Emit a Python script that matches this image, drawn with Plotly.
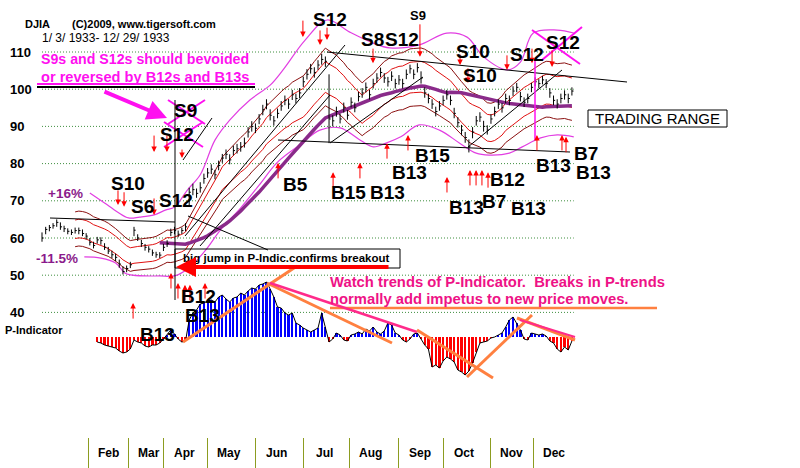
import plotly.graph_objects as go
import pandas as pd

W, H = 800, 468
X0_PX, PX_PER_SESSION = 42, 1.84
Y110_PX, PX_PER_POINT = 52, 3.72
P0_PX = 337

# ---------------- data (every 2nd trading session of 1933) ----------------
bar_step = 2
close = [60.0, 62.3, 62.8, 63.3, 64.2, 63.0, 62.5, 61.8, 61.5, 62.0,
         62.0, 61.2, 60.5, 58.8, 58.0, 59.5, 59.3, 57.5, 56.5, 55.5,
         54.8, 53.0, 51.0, 51.8, 52.8, 62.1, 60.0, 58.5, 57.5, 57.0,
         56.0, 55.5, 55.4, 57.5, 58.5, 61.5, 62.0, 61.0, 62.0, 63.0,
         72.3, 73.0, 72.0, 73.5, 76.0, 77.5, 78.5, 77.0, 79.5, 81.5,
         82.5, 81.0, 83.5, 84.0, 84.5, 85.5, 88.5, 90.0, 89.5, 92.0,
         94.5, 96.0, 93.0, 91.5, 93.5, 95.5, 97.0, 96.0, 98.5, 97.5,
         99.0, 102.0, 104.0, 105.5, 104.5, 106.5, 108.0, 107.5, 92.0, 91.5,
         94.0, 92.0, 95.0, 93.0, 96.5, 95.0, 98.0, 99.0, 100.5, 98.5,
         101.5, 103.0, 104.5, 103.0, 102.0, 103.5, 101.5, 102.5, 101.5, 104.0,
         105.5, 104.0, 105.8, 103.0, 99.0, 97.5, 96.0, 94.0, 95.5, 97.0,
         98.5, 97.0, 93.5, 91.0, 89.0, 87.0, 84.5, 88.5, 91.5, 92.5,
         90.0, 89.0, 92.0, 94.0, 96.0, 95.0, 97.5, 97.0, 99.5, 100.5,
         98.0, 96.5, 97.5, 100.5, 102.0, 101.5, 102.5, 101.5, 99.0, 97.0,
         96.0, 97.5, 98.5, 97.5, 99.5]
high = [61.5, 63.0, 63.5, 64.0, 65.0, 64.2, 63.3, 62.6, 62.3, 62.8,
        62.8, 62.3, 61.3, 60.0, 59.0, 60.3, 60.2, 58.6, 57.6, 56.6,
        55.8, 54.2, 52.4, 52.6, 53.6, 63.0, 61.0, 59.5, 58.4, 57.8,
        56.9, 56.3, 56.2, 58.4, 59.4, 62.5, 63.0, 62.0, 62.8, 64.0,
        73.5, 74.6, 73.3, 75.0, 77.3, 78.8, 79.8, 78.3, 80.8, 82.6,
        83.8, 82.5, 84.8, 85.3, 85.8, 87.0, 89.8, 91.4, 90.8, 93.3,
        95.8, 97.3, 94.6, 92.8, 94.8, 96.8, 98.3, 97.4, 99.8, 98.8,
        100.3, 103.4, 105.4, 106.8, 105.9, 107.8, 109.5, 108.8, 104.0, 93.0,
        95.3, 93.4, 96.4, 94.4, 97.8, 96.4, 99.3, 100.3, 101.8, 99.8,
        102.8, 104.3, 105.8, 104.3, 103.3, 104.8, 102.8, 103.8, 102.8, 105.3,
        106.6, 105.3, 107.0, 104.8, 100.5, 98.8, 97.3, 95.3, 96.8, 98.3,
        99.8, 98.3, 95.0, 92.5, 90.4, 88.5, 86.5, 89.8, 92.8, 93.8,
        91.5, 90.3, 93.3, 95.3, 97.3, 96.3, 98.8, 98.3, 100.8, 101.7,
        99.3, 97.8, 98.8, 101.7, 103.2, 102.7, 103.6, 102.7, 100.3, 98.3,
        97.3, 98.8, 99.7, 98.8, 100.5]
low = [59.0, 61.0, 61.8, 62.5, 63.0, 62.2, 61.6, 61.0, 60.8, 61.2,
       61.0, 60.5, 59.6, 58.0, 57.2, 58.5, 58.2, 56.8, 55.7, 54.6,
       53.8, 52.0, 50.2, 50.8, 51.9, 60.5, 59.2, 57.6, 56.6, 56.1,
       55.2, 54.7, 54.6, 56.5, 57.6, 60.5, 61.0, 60.2, 61.1, 61.8,
       68.5, 71.5, 70.8, 72.2, 74.6, 76.2, 77.2, 75.8, 78.2, 80.2,
       81.2, 79.8, 82.2, 82.7, 83.2, 84.3, 87.0, 88.6, 88.2, 90.6,
       93.0, 94.6, 91.6, 90.2, 92.2, 94.2, 95.7, 94.7, 97.1, 96.2,
       97.6, 100.6, 102.6, 104.2, 103.1, 105.2, 106.6, 106.0, 85.5, 90.0,
       92.6, 90.8, 93.7, 91.8, 95.1, 93.8, 96.7, 97.7, 99.1, 97.2,
       100.2, 101.7, 103.2, 101.7, 100.7, 102.2, 100.2, 101.2, 100.2, 102.7,
       104.2, 102.7, 104.5, 101.5, 97.7, 96.2, 94.7, 92.7, 94.2, 95.7,
       97.2, 95.7, 92.2, 89.7, 87.6, 85.6, 83.0, 86.8, 90.2, 91.2,
       88.6, 87.8, 90.7, 92.7, 94.7, 93.7, 96.2, 95.7, 98.2, 99.2,
       96.7, 95.2, 96.2, 99.2, 100.8, 100.3, 101.3, 100.3, 97.7, 95.7,
       94.8, 96.2, 97.2, 96.2, 98.3]

p_start = 30
p_indicator = [-5, -6, -8, -9, -10, -11, -14, -16, -15, -12,
               -3, -5, -6, -9, -10, -8, -8, -6, -2, 2,
               7, 3, -2, -5, -4, 17, 24, 27, 33, 34,
               36, 37, 35, 40, 42, 38, 35, 39, 40, 44,
               42, 46, 49, 48, 52, 53, 55, 48, 40, 30,
               29, 24, 22, 24, 14, 12, 9, 7, 5, 7,
               9, 24, 10, -5, -2, 4, 2, -3, -4, 2,
               3, 5, 3, 8, 6, 10, 5, 3, 6, 14,
               12, 4, 2, -3, -5, -2, 3, 4, -2, -8,
               -12, -30, -28, -31, -24, -20, -22, -25, -33, -35,
               -38, -34, -26, -15, -6, -5, -4, -1, 0, 2,
               4, 10, 17, 20, 14, 7, -2, -3, 4, 3,
               2, 3, 1, -4, -6, -12, -15, -10, -13, -4]

upper_band_sessions = [26, 34, 41, 47, 53, 61, 67, 72, 79, 86, 94, 102, 113, 124, 131,
                       143, 155, 167, 180, 189, 205, 220, 231, 240, 253, 260, 267, 280, 289]
upper_band = [72.1, 69.4, 67.0, 65.4, 65.6, 66.2, 67.5, 68.3, 72.9, 77.0, 86.3, 91.7, 97.1, 101.1, 105.2,
              113.2, 118.6, 115.4, 112.4, 111.1, 111.9, 115.1, 114.0, 108.7, 105.2, 107.3, 115.1, 115.9, 115.1]
lower_band_sessions = [23, 32, 40, 45, 48, 56, 64, 72, 80, 89, 97, 108, 118, 128, 140, 151,
                       162, 173, 180, 187, 195, 205, 216, 227, 236, 243, 254, 261, 271, 280, 289]
lower_band = [54.9, 54.6, 53.3, 50.6, 50.1, 49.8, 49.8, 49.8, 52.0, 56.8, 62.2, 68.1, 74.2, 80.4, 85.0, 89.0,
              89.6, 86.3, 84.5, 85.5, 87.2, 90.4, 89.0, 85.5, 82.8, 82.3, 82.8, 84.5, 86.9, 87.7, 87.2]

price_ticks = [110, 100, 90, 80, 70, 60, 50, 40]
month_names = ["Feb", "Mar", "Apr", "May", "Jun", "Jul", "Aug", "Sep", "Oct", "Nov", "Dec"]
month_start_sessions = [25, 47, 66, 90, 116, 142, 167, 194, 218, 244, 267]
last_session = 289

sell_sessions = [41.3, 44.6, 60.9, 60.9, 67.9, 76.1, 141.8, 151.1, 154.9, 179.9, 205.4,
                 227.2, 231.5, 252.7, 266.3, 277.2]
sell_prices = [68.9, 68.4, 66.2, 83.1, 83.1, 81.5, 114.0, 111.9, 113.2, 107.0, 108.7,
               106.5, 101.7, 105.2, 107.0, 106.0]
sell_len = [16, 16, 18, 18, 18, 10, 18, 16, 14, 16, 34, 12, 16, 16, 16, 18]
buy_sessions = [49.5, 70.1, 73.9, 77.7, 80.4, 88.6, 128.3, 158.2, 172.8, 187.5, 198.9,
                220.1, 232.6, 235.9, 239.1, 242.4, 269.0, 282.6, 284.8]
buy_prices = [42.5, 50.6, 47.9, 47.4, 47.4, 47.9, 80.2, 77.7, 80.2, 85.5, 87.7,
              76.4, 78.3, 78.3, 78.3, 77.7, 87.7, 87.7, 87.2]

# ---------------- derived series ----------------
sessions = [i * bar_step for i in range(len(close))]
cs = pd.Series(close)
ma21 = cs.rolling(10).mean()
ma65 = cs.rolling(33).mean()

x_range = [-X0_PX / PX_PER_SESSION, (W - X0_PX) / PX_PER_SESSION]
y_range = [110 - (H - Y110_PX) / PX_PER_POINT, 110 + Y110_PX / PX_PER_POINT]
y2_range = [P0_PX - H, P0_PX]

fig = go.Figure()

# dotted grid lines at price levels
for t in price_ticks:
    fig.add_trace(go.Scatter(x=[0, last_session], y=[t, t], mode="lines",
                             line=dict(color="#3f8f3f", width=1, dash="1px,2px"),
                             hoverinfo="skip", showlegend=False))

# P-indicator histogram
p_x = [p_start + i * bar_step for i in range(len(p_indicator))]
fig.add_trace(go.Bar(x=p_x, y=p_indicator, yaxis="y2", width=1.2,
                     marker=dict(color=["#0000ff" if v >= 0 else "#ff0000" for v in p_indicator],
                                 line=dict(width=0)),
                     showlegend=False, hoverinfo="skip"))
fig.add_trace(go.Scatter(x=p_x, y=p_indicator, yaxis="y2", mode="lines",
                         line=dict(color="black", width=1), showlegend=False, hoverinfo="skip"))

# magenta bands
fig.add_trace(go.Scatter(x=upper_band_sessions, y=upper_band, mode="lines",
                         line=dict(color="#e23ee2", width=1.2, shape="spline"), showlegend=False))
fig.add_trace(go.Scatter(x=lower_band_sessions, y=lower_band, mode="lines",
                         line=dict(color="#e23ee2", width=1.2, shape="spline"), showlegend=False))

# red moving-average bands
for f, col in [(1.075, "#8b1010"), (1.04, "#e01010"), (0.96, "#e01010"), (0.925, "#8b1010")]:
    fig.add_trace(go.Scatter(x=sessions, y=ma21 * f, mode="lines",
                             line=dict(color=col, width=1), showlegend=False))

# 65-day average
fig.add_trace(go.Scatter(x=sessions, y=ma65, mode="lines",
                         line=dict(color="#8a2a8a", width=3.5), showlegend=False))

# price bars
bx, by, tx, ty = [], [], [], []
for s, h, l, c in zip(sessions, high, low, close):
    bx += [s, s, None]
    by += [l, h, None]
    tx += [s, s + 0.9, None]
    ty += [c, c, None]
fig.add_trace(go.Scatter(x=bx, y=by, mode="lines", line=dict(color="black", width=1),
                         showlegend=False, hoverinfo="skip"))
fig.add_trace(go.Scatter(x=tx, y=ty, mode="lines", line=dict(color="black", width=1),
                         showlegend=False, hoverinfo="skip"))

# ---------------- annotations ----------------
def px(x):
    return x / W

def py(y):
    return 1 - y / H

ann = []

def text(t, x, y, size=19, color="black", bold=True, xanchor="center", family="Arial"):
    ann.append(dict(text=f"<b>{t}</b>" if bold else t, x=px(x), y=py(y), xref="paper", yref="paper",
                    xanchor=xanchor, yanchor="middle", showarrow=False,
                    font=dict(size=size, color=color, family=family)))

# signal arrows
for s, p, L in zip(sell_sessions, sell_prices, sell_len):
    ann.append(dict(x=s, y=p, xref="x", yref="y", ax=0, ay=-L, text="", showarrow=True,
                    arrowhead=2, arrowsize=1.1, arrowwidth=1, arrowcolor="#ff0000"))
for s, p in zip(buy_sessions, buy_prices):
    ann.append(dict(x=s, y=p, xref="x", yref="y", ax=0, ay=17, text="", showarrow=True,
                    arrowhead=2, arrowsize=1.1, arrowwidth=1, arrowcolor="#ff0000"))

# header texts
text("DJIA", 23, 24, 11, xanchor="left")
text("(C)2009, www.tigersoft.com", 70, 24, 11, xanchor="left")
text("1/ 3/ 1933- 12/ 29/ 1933", 40, 38, 12, bold=False, xanchor="left")
text("S9s and S12s should bevoided", 39, 59, 14.2, color="#ff10f0", xanchor="left")
text("or reversed by B12s and B13s", 39, 77, 14.6, color="#ff10f0", xanchor="left")
ann.append(dict(x=px(167), y=py(118), xref="paper", yref="paper", ax=-64, ay=-27, text="",
                showarrow=True, arrowhead=2, arrowsize=1, arrowwidth=4, arrowcolor="#ff10f0"))

# signal labels
for t, x, y, sz in [("S9", 185, 110, 19), ("S12", 177, 134, 19), ("S10", 128, 184, 19),
                    ("S6", 142, 206, 19), ("S12", 176, 200, 19), ("B12", 198, 296, 19),
                    ("B13", 203, 315, 19), ("B13", 157, 334, 19), ("B5", 295, 185, 19),
                    ("B15", 348, 192, 19), ("B13", 387, 192, 19), ("B13", 410, 172, 19),
                    ("B15", 432, 156, 19), ("B13", 466, 207, 19), ("B7", 494, 201, 19),
                    ("B12", 507, 179, 19), ("B13", 528, 209, 19), ("B13", 553, 165, 19),
                    ("B7", 586, 154, 19), ("B13", 593, 172, 19), ("S8", 372, 39, 19),
                    ("S12", 402, 39, 19), ("S12", 330, 20, 19),
                    ("S9", 418, 16, 13), ("S10", 473, 51, 19), ("S10", 480, 75, 19),
                    ("S12", 527, 54, 19), ("S12", 563, 42, 19)]:
    text(t, x, y, sz)

text("+16%", 65, 193, 13.5, color="#8b1a8b")
text("-11.5%", 57, 258, 13.5, color="#8b1a8b")
text("big jump in P-Indic.confirms breakout", 181, 258, 11.5, xanchor="left")
ann.append(dict(x=px(176), y=py(267), xref="paper", yref="paper", ax=214, ay=0, text="",
                showarrow=True, arrowhead=2, arrowsize=1, arrowwidth=4, arrowcolor="#ff0000"))
text("TRADING RANGE", 657, 118, 15, bold=False)
text("Watch trends of P-Indicator.  Breaks in P-trends", 328, 282, 14.8, color="#ee1286", xanchor="left")
text("normally add impetus to new price moves.", 328, 299, 14.8, color="#ee1286", xanchor="left")
text("P-Indicator", 3, 330, 11, xanchor="left")

# month labels
for name, s in zip(month_names, month_start_sessions):
    ann.append(dict(text=f"<b>{name}</b>", x=s + 11.4, y=py(453), xref="x", yref="paper",
                    showarrow=False, xanchor="center", yanchor="middle",
                    font=dict(size=12, color="black", family="Liberation Sans Narrow, Arial")))

# ---------------- shapes ----------------
shapes = []

def line(x0, y0, x1, y1, color="black", width=1):
    shapes.append(dict(type="line", xref="paper", yref="paper", x0=px(x0), y0=py(y0),
                       x1=px(x1), y1=py(y1), line=dict(color=color, width=width)))

line(37, 84, 255, 84, "#ff10f0", 2)
line(37, 87, 255, 87, "black", 2)
# crosses
for a in [(168, 100, 205, 124), (168, 124, 205, 100), (164, 122, 203, 147), (164, 147, 203, 122),
          (532, 30, 580, 64), (582, 27, 542, 60)]:
    line(*a, color="#ff10f0", width=2)
line(175, 100, 175, 300)
line(50, 218, 175, 222)
line(188, 216, 268, 250)
line(183, 160, 212, 118)
shapes.append(dict(type="rect", xref="paper", yref="paper", x0=px(175), y0=py(249), x1=px(400),
                   y1=py(268), line=dict(color="black", width=1)))
line(327, 52, 627, 82)
line(278, 140, 570, 152)
line(185, 236, 345, 45)
line(200, 246, 330, 95)
line(330, 143, 423, 77)
line(468, 147, 562, 70)
line(535, 60, 535, 140, "#ff10f0", 1.5)
shapes.append(dict(type="rect", xref="paper", yref="paper", x0=px(588), y0=py(110), x1=px(727),
                   y1=py(127), line=dict(color="black", width=1)))
line(330, 308, 657, 308, "#ff8040", 2.5)
for a, col, w in [((183, 342, 297, 266), "#ff8040", 3), ((267, 283, 392, 343), "#ff8040", 3),
                  ((270, 283, 417, 332), "#ff2a8a", 2.5), ((417, 330, 493, 378), "#ff8040", 3),
                  ((467, 377, 532, 315), "#ff8040", 3), ((517, 318, 575, 340), "#ff8040", 3),
                  ((520, 320, 575, 337), "#ff2a8a", 2)]:
    line(*a, color=col, width=w)

fig.update_layout(
    width=W, height=H, margin=dict(l=0, r=0, t=0, b=0),
    paper_bgcolor="white", plot_bgcolor="white", showlegend=False, bargap=0,
    annotations=ann, shapes=shapes,
    xaxis=dict(range=x_range, domain=[0, 1], showgrid=False, zeroline=False, showline=False,
               showticklabels=False, ticks="inside", ticklen=30, tickwidth=1, tickcolor="#8c9c20",
               tickvals=month_start_sessions),
    yaxis=dict(range=y_range, domain=[0, 1], showgrid=False, zeroline=False, showline=False,
               tickvals=price_ticks, ticktext=[f"<b>{t}</b>" for t in price_ticks], ticks="",
               ticklabelposition="inside", ticklabelstandoff=7,
               tickfont=dict(size=13, color="black", family="Arial")),
    yaxis2=dict(range=y2_range, overlaying="y", visible=False),
)

fig.write_html("out.html")
